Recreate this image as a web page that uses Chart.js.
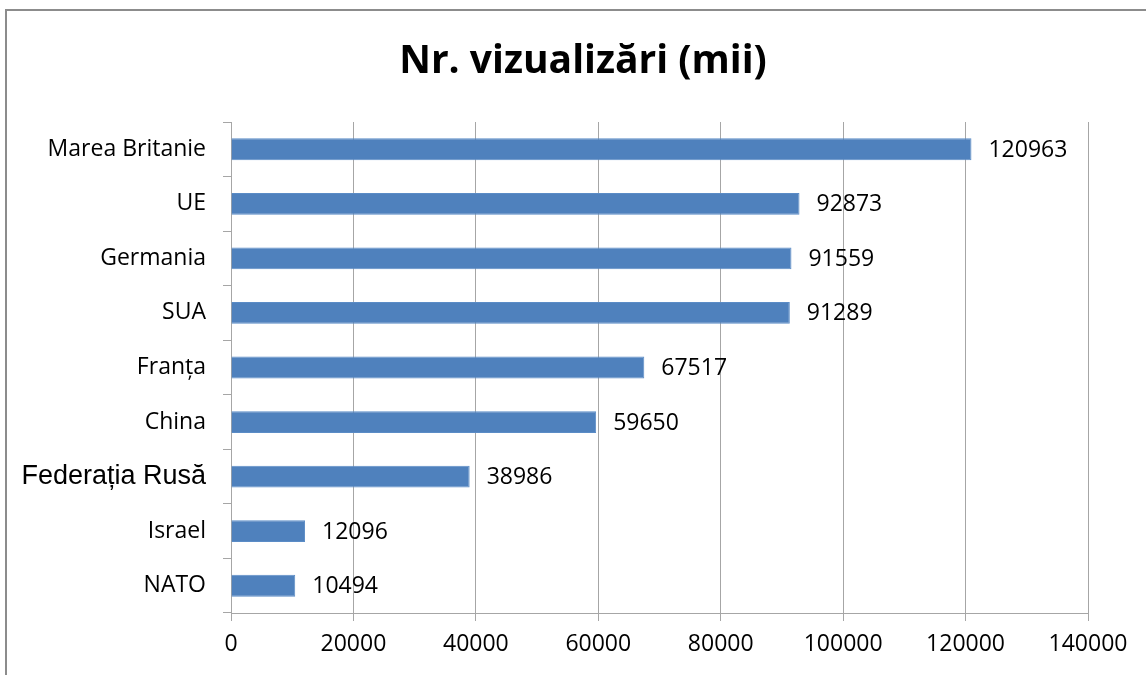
<!DOCTYPE html>
<html>
<head>
<meta charset="utf-8">
<script src="https://cdn.jsdelivr.net/npm/chart.js@4/dist/chart.umd.min.js"></script>
<style>
  html, body { margin: 0; padding: 0; background: #fff; }
  #wrap { width: 1146px; height: 675px; }
</style>
</head>
<body>
<div id="wrap"><canvas id="viewsChart" width="1146" height="675"></canvas></div>
<script>
// chart data
const categories = ["Marea Britanie", "UE", "Germania", "SUA", "Franța", "China", "Federația Rusă", "Israel", "NATO"];
const views = [120963, 92873, 91559, 91289, 67517, 59650, 38986, 12096, 10494];
const xTicks = [0, 20000, 40000, 60000, 80000, 100000, 120000, 140000];
const chartTitle = "Nr. vizualizări (mii)";

const textFont = "'Open Sans', sans-serif";

// frame around the chart, like the spreadsheet chart border
const framePlugin = {
    id: "frame",
    beforeDraw(chart) {
        const ctx = chart.ctx;
        ctx.save();
        ctx.fillStyle = "#fff";
        ctx.fillRect(0, 0, chart.width, chart.height);
        ctx.strokeStyle = "#8c8c8c";
        ctx.lineWidth = 2;
        ctx.strokeRect(6, 10, chart.width + 20, chart.height + 20);
        ctx.restore();
    }
};

// title centred over the whole frame (built-in title centres on padded box)
const titlePlugin = {
    id: "frameTitle",
    afterDraw(chart) {
        const ctx = chart.ctx;
        ctx.save();
        ctx.font = "bold 39px " + textFont;
        ctx.fillStyle = "#000";
        ctx.textAlign = "center";
        ctx.textBaseline = "middle";
        ctx.fillText(chartTitle, 583, 62);
        ctx.restore();
    }
};

// value printed right of each bar
const valueLabels = {
    id: "valueLabels",
    afterDatasetsDraw(chart) {
        const ctx = chart.ctx;
        const meta = chart.getDatasetMeta(0);
        ctx.save();
        ctx.font = "23px " + textFont;
        ctx.fillStyle = "#000";
        ctx.textAlign = "left";
        ctx.textBaseline = "middle";
        meta.data.forEach(function (bar, i) {
            ctx.fillText(String(views[i]), bar.x + 17, bar.y + 1);
        });
        ctx.restore();
    }
};

new Chart(document.getElementById("viewsChart"), {
    type: "bar",
    data: {
        labels: categories,
        datasets: [{
            data: views,
            backgroundColor: "#4F81BD",
            borderColor: "#5b8cc6",
            borderWidth: 1,
            barPercentage: 0.4,
            categoryPercentage: 1.0
        }]
    },
    options: {
        indexAxis: "y",
        responsive: false,
        animation: false,
        layout: { padding: { top: 122, right: 58, bottom: 0, left: 0 } },
        plugins: {
            legend: { display: false },
            tooltip: { enabled: false },
            title: { display: false }
        },
        scales: {
            x: {
                min: 0,
                max: 140000,
                afterBuildTicks: function (scale) {
                    scale.ticks = xTicks.map(function (v) { return { value: v }; });
                },
                afterFit: function (scale) { scale.height = 62; },
                grid: { color: "#a6a6a6", lineWidth: 1, tickLength: 8 },
                border: { color: "#a6a6a6" },
                ticks: {
                    color: "#000",
                    padding: 10,
                    maxRotation: 0,
                    font: { family: textFont, size: 23 },
                    callback: function (v) { return String(v); }
                }
            },
            y: {
                afterFit: function (scale) { scale.width = 231; },
                grid: { drawOnChartArea: false, color: "#a6a6a6", tickLength: 8 },
                border: { color: "#a6a6a6" },
                ticks: {
                    color: "#000",
                    padding: 17,
                    font: function (ctx) {
                        if (categories[ctx.index] === "Federația Rusă") {
                            return { family: "'Liberation Sans', Arial, sans-serif", size: 27 };
                        }
                        return { family: textFont, size: 23 };
                    }
                }
            }
        }
    },
    plugins: [framePlugin, valueLabels, titlePlugin]
});
</script>
</body>
</html>
